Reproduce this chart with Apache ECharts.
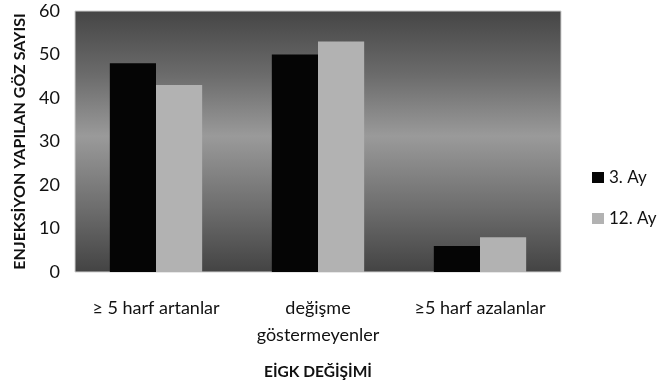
<!DOCTYPE html>
<html>
<head>
<meta charset="utf-8">
<script src="https://cdn.jsdelivr.net/npm/echarts@6/dist/echarts.min.js"></script>
<style>
  html, body { margin: 0; padding: 0; background: #ffffff; }
  #chart { width: 671px; height: 385px; }
</style>
</head>
<body>
<div id="chart"></div>
<script>
// Categories of visual acuity change and eye counts per follow-up month
const categories = ['≥ 5 harf artanlar', 'değişme\ngöstermeyenler', '≥5 harf azalanlar'];
const seriesNames = ['3. Ay', '12. Ay'];
const month3 = [48, 50, 6];
const month12 = [43, 53, 8];
const yTicks = { min: 0, max: 60, interval: 10 };

const font = 'Lato, "Open Sans", "DejaVu Sans", sans-serif';

const chart = echarts.init(document.getElementById('chart'), null, { renderer: 'canvas' });

chart.setOption({
  animation: false,
  backgroundColor: '#ffffff',
  textStyle: { fontFamily: font },
  grid: {
    left: 75, right: 110, top: 11, bottom: 104,
    show: true,
    borderColor: '#cfcfcf',
    borderWidth: 1,
    backgroundColor: {
      type: 'linear', x: 0, y: 0, x2: 0, y2: 1,
      colorStops: [
        { offset: 0, color: '#454545' },
        { offset: 0.25, color: '#6c6c6c' },
        { offset: 0.48, color: '#9a9a9a' },
        { offset: 0.75, color: '#6e6e6e' },
        { offset: 1, color: '#434343' }
      ]
    }
  },
  legend: {
    orient: 'vertical',
    left: 587, top: 164,
    itemWidth: 12, itemHeight: 11,
    itemGap: 24,
    icon: 'rect',
    textStyle: { fontFamily: font, fontSize: 17, color: '#111111' },
    data: seriesNames
  },
  xAxis: {
    type: 'category',
    data: categories,
    name: 'EİGK DEĞİŞİMİ',
    nameLocation: 'middle',
    nameGap: 92,
    nameTextStyle: { fontFamily: font, fontSize: 15.5, fontWeight: 'bold', color: '#111111' },
    axisLine: { show: false },
    axisTick: { show: false },
    axisLabel: { fontFamily: font, fontSize: 18, color: '#111111', margin: 23, lineHeight: 27, interval: 0 },
    splitLine: { show: false }
  },
  yAxis: {
    type: 'value',
    min: yTicks.min, max: yTicks.max, interval: yTicks.interval,
    name: 'ENJEKSİYON YAPILAN GÖZ SAYISI',
    nameLocation: 'middle',
    nameGap: 45,
    nameTextStyle: { fontFamily: font, fontSize: 16, fontWeight: 'bold', color: '#111111' },
    axisLine: { show: false },
    axisTick: { show: false },
    axisLabel: { fontFamily: font, fontSize: 18, color: '#111111', margin: 15 },
    splitLine: { show: false }
  },
  series: [
    {
      name: seriesNames[0], type: 'bar', data: month3,
      barGap: '0%', barCategoryGap: '43%',
      itemStyle: { color: '#050505' }
    },
    {
      name: seriesNames[1], type: 'bar', data: month12,
      barGap: '0%', barCategoryGap: '43%',
      itemStyle: { color: '#b2b2b2' }
    }
  ]
});
</script>
</body>
</html>
